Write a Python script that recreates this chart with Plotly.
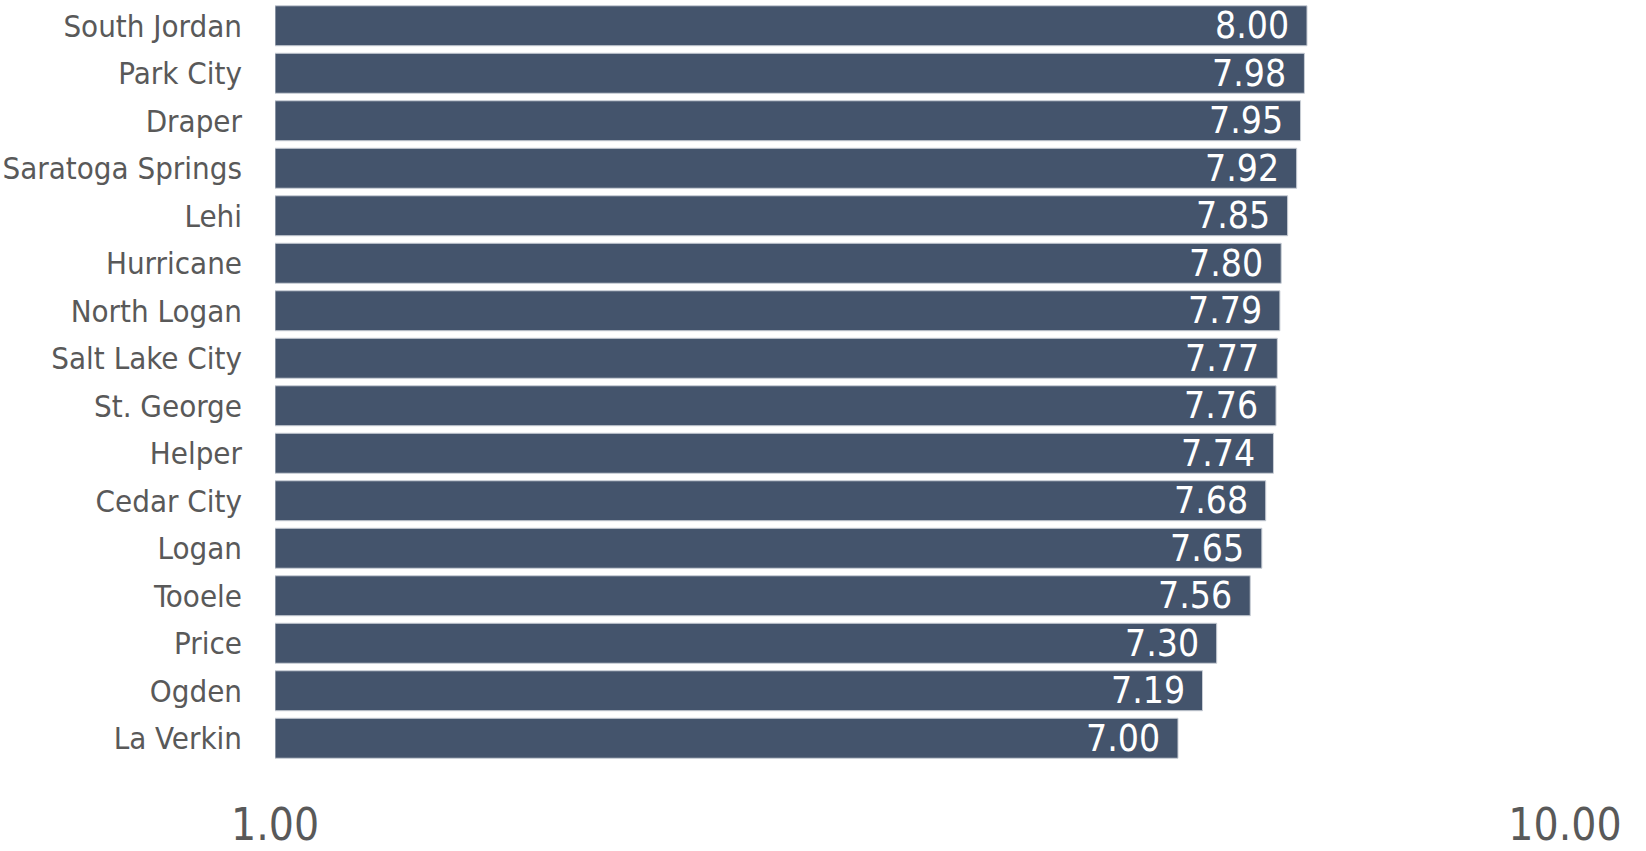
import plotly.graph_objects as go

# City scores, listed top to bottom
cities = [
    "South Jordan", "Park City", "Draper", "Saratoga Springs", "Lehi",
    "Hurricane", "North Logan", "Salt Lake City", "St. George", "Helper",
    "Cedar City", "Logan", "Tooele", "Price", "Ogden", "La Verkin",
]
scores = [8.00, 7.98, 7.95, 7.92, 7.85, 7.80, 7.79, 7.77, 7.76, 7.74,
          7.68, 7.65, 7.56, 7.30, 7.19, 7.00]

# Axis end ticks and their labels
x_tickvals = [0, 10]
x_ticktext = ["1.00", "10.00"]

FONT = "DejaVu Sans Condensed, Liberation Sans Narrow, sans-serif"
BAR_COLOR = "#44546c"
TEXT_GRAY = "#595959"

fig = go.Figure(
    go.Bar(
        x=scores,
        y=cities,
        orientation="h",
        marker=dict(color=BAR_COLOR, line=dict(color="#c9ced6", width=1)),
        hoverinfo="x+y",
    )
)

# Value labels sitting inside the end of each bar
for city, val in zip(cities, scores):
    fig.add_annotation(
        x=val, y=city, text=f"{val:.2f}",
        xanchor="right", yanchor="middle", xshift=-16, yshift=0,
        showarrow=False,
        font=dict(family=FONT, size=37, color="white"),
    )

fig.update_layout(
    width=1646,
    height=851,
    margin=dict(l=275, r=81, t=2, b=89),
    paper_bgcolor="white",
    plot_bgcolor="white",
    bargap=0.158,
    showlegend=False,
    xaxis=dict(
        range=[0, 10],
        tickvals=x_tickvals,
        ticktext=x_ticktext,
        showgrid=False,
        zeroline=False,
        showline=False,
        ticks="",
        automargin=False,
        ticklabelstandoff=33,
        tickfont=dict(family=FONT, size=44, color=TEXT_GRAY),
    ),
    yaxis=dict(
        categoryorder="array",
        categoryarray=cities,
        autorange="reversed",
        showgrid=False,
        zeroline=False,
        showline=False,
        ticks="",
        automargin=False,
        ticklabelstandoff=32,
        tickfont=dict(family=FONT, size=31, color=TEXT_GRAY),
    ),
)

fig.write_html("out.html")
